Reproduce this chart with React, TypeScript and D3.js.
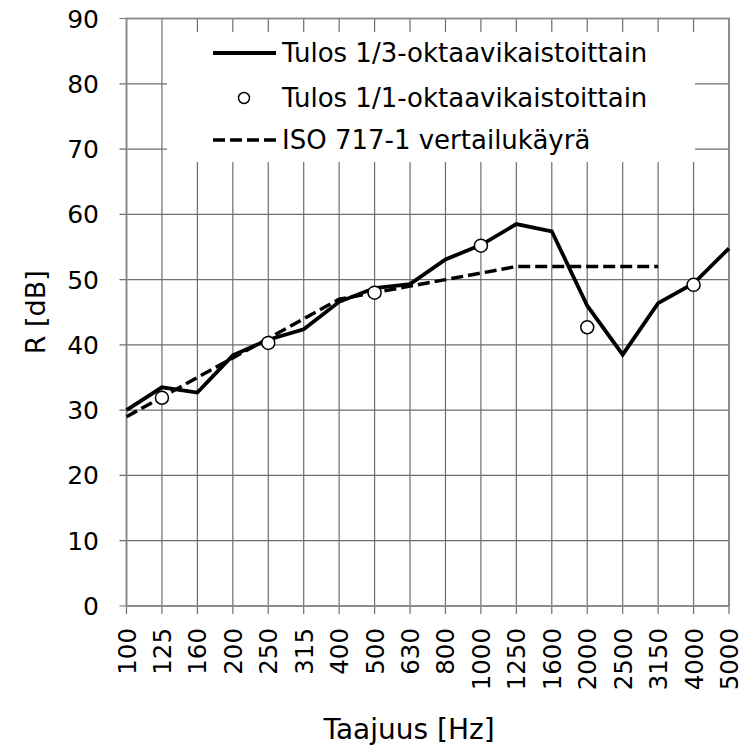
import React from "react";
import * as d3 from "d3";

const freqs = ["100", "125", "160", "200", "250", "315", "400", "500", "630", "800",
  "1000", "1250", "1600", "2000", "2500", "3150", "4000", "5000"];

// 1/3-octave result
const thirdOctave = [30, 33.5, 32.7, 38.4, 40.8, 42.4, 46.6, 48.7, 49.3, 53.1,
  55.3, 58.5, 57.4, 46.0, 38.5, 46.4, 49.4, 54.8];

// 1/1-octave result (circles)
const octaveFreqs = ["125", "250", "500", "1000", "2000", "4000"];
const octaveValues = [31.9, 40.3, 48.0, 55.2, 42.7, 49.2];

// ISO 717-1 reference curve (shifted)
const refFreqs = ["100", "125", "160", "200", "250", "315", "400", "500", "630", "800",
  "1000", "1250", "1600", "2000", "2500", "3150"];
const refValues = [29, 32, 35, 38, 41, 44, 47, 48, 49, 50, 51, 52, 52, 52, 52, 52];

const yTicks = [0, 10, 20, 30, 40, 50, 60, 70, 80, 90];

const legendLabels = [
  "Tulos 1/3-oktaavikaistoittain",
  "Tulos 1/1-oktaavikaistoittain",
  "ISO 717-1 vertailukäyrä",
];

const W = 756;
const H = 749;
const left = 126.5;
const right = 729;
const top = 18.5;
const bottom = 606;
const font = "'DejaVu Sans', Verdana, sans-serif";
const gridColor = "#6e6e6e";

export default function App() {
  const x = d3.scalePoint<string>().domain(freqs).range([left, right]);
  const y = d3.scaleLinear().domain([0, 90]).range([bottom, top]);

  const line = d3.line<[string, number]>()
    .x(d => x(d[0]) as number)
    .y(d => y(d[1]));

  const solidPath = line(freqs.map((f, i) => [f, thirdOctave[i]]));
  const refPath = line(refFreqs.map((f, i) => [f, refValues[i]]));
  const legendY = [53, 98, 140];

  return (
    <svg width={W} height={H} style={{ position: "absolute", left: 0, top: 0, background: "#fff" }}
      fontFamily={font}>
      <rect width={W} height={H} fill="#fff" />
      {/* grid */}
      {yTicks.map(t => (
        <line key={"h" + t} x1={left - 7} x2={right} y1={y(t)} y2={y(t)}
          stroke={gridColor} strokeWidth={1.2} />
      ))}
      {freqs.map(f => (
        <line key={"v" + f} x1={x(f)} x2={x(f)} y1={top} y2={bottom + 8}
          stroke={gridColor} strokeWidth={1.2} />
      ))}
      {/* legend box hides grid */}
      <rect x={167} y={32} width={528} height={130} fill="#fff" />
      {/* frame */}
      <rect x={left} y={top} width={right - left} height={bottom - top}
        fill="none" stroke="#888" strokeWidth={1.8} />

      {/* y tick labels */}
      {yTicks.map(t => (
        <text key={"yl" + t} x={99} y={y(t)} dy="0.36em" textAnchor="end" fontSize={25}>{t}</text>
      ))}
      {/* x tick labels */}
      {freqs.map(f => (
        <text key={"xl" + f} transform={`translate(${(x(f) as number) + 9},${628}) rotate(-90)`}
          textAnchor="end" fontSize={24.5}>{f}</text>
      ))}

      {/* series */}
      <path d={refPath || ""} fill="none" stroke="#000" strokeWidth={3.5} strokeDasharray="12,5" />
      <path d={solidPath || ""} fill="none" stroke="#000" strokeWidth={3.8} strokeLinejoin="miter" />
      {octaveFreqs.map((f, i) => (
        <circle key={"c" + f} cx={x(f)} cy={y(octaveValues[i])} r={6.5}
          fill="#fff" stroke="#000" strokeWidth={1.5} />
      ))}

      {/* legend */}
      <line x1={213} x2={276} y1={legendY[0]} y2={legendY[0]} stroke="#000" strokeWidth={3.8} />
      <circle cx={244} cy={legendY[1]} r={5.5} fill="#fff" stroke="#000" strokeWidth={1.5} />
      <line x1={213} x2={276} y1={legendY[2]} y2={legendY[2]} stroke="#000" strokeWidth={3.5} strokeDasharray="12,5" />
      {legendLabels.map((l, i) => (
        <text key={l} x={282} y={legendY[i]} dy="0.36em" fontSize={26}>{l}</text>
      ))}

      {/* axis titles */}
      <text transform={`translate(45,${(top + bottom) / 2}) rotate(-90)`} textAnchor="middle"
        fontSize={27}>R [dB]</text>
      <text x={409} y={739} textAnchor="middle" fontSize={28}>Taajuus [Hz]</text>
    </svg>
  );
}
